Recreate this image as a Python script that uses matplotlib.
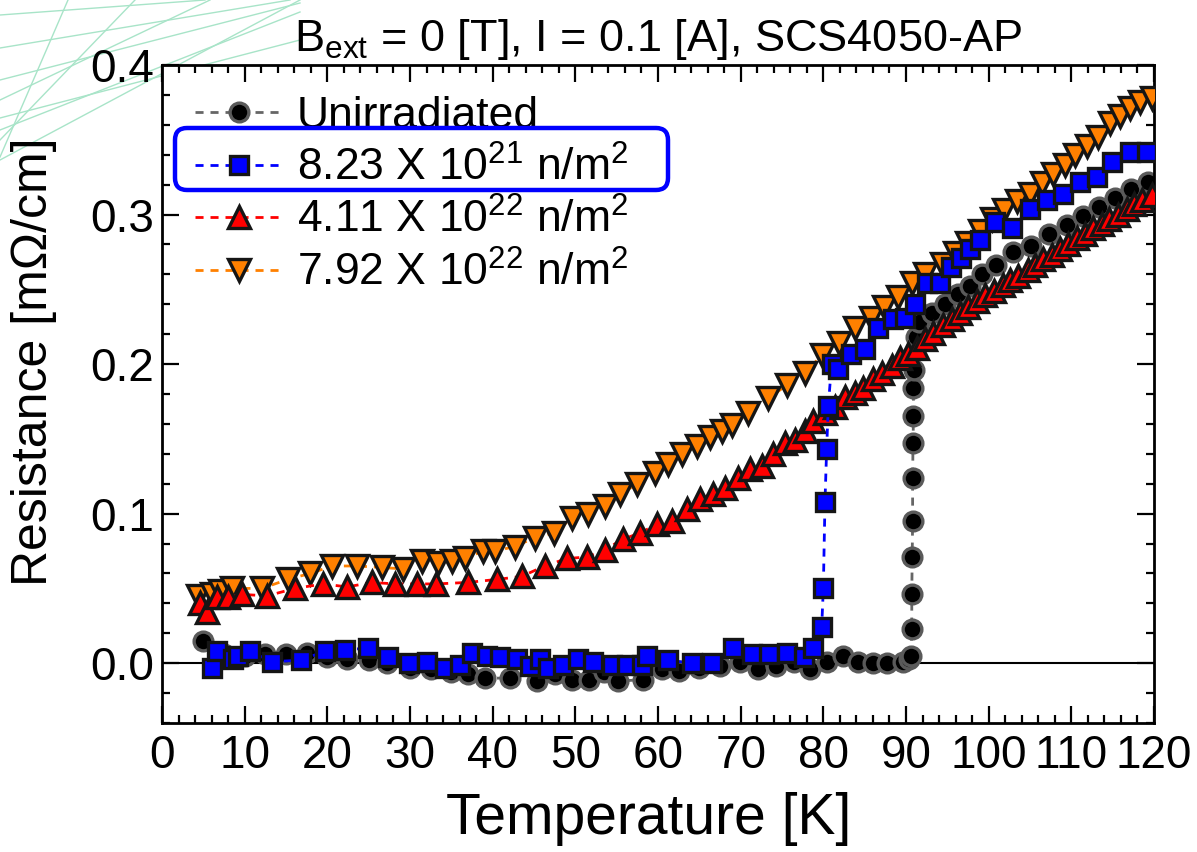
import matplotlib
matplotlib.use("Agg")
import matplotlib.pyplot as plt
from matplotlib.ticker import MultipleLocator, FormatStrFormatter
from matplotlib.patches import FancyBboxPatch
from matplotlib.lines import Line2D

plt.rcParams.update({
    "font.family": ["Liberation Sans", "DejaVu Sans"],
    "mathtext.fontset": "custom",
    "mathtext.rm": "Liberation Sans",
    "mathtext.it": "Liberation Sans:italic",
    "mathtext.bf": "Liberation Sans:bold",
})

# unirradiated
t_un = [5.0, 7.5, 10.0, 12.5, 15.0, 17.5, 20.0, 22.4, 25.0, 27.2, 30.0, 32.5,
        35.0, 37.0, 39.1, 42.1, 45.4, 47.5, 49.6, 51.7, 53.5, 55.2, 58.2, 60.5,
        62.5, 65.0, 67.5, 69.9, 72.1, 74.3, 76.4, 78.4, 80.4, 82.4, 84.2, 86.0,
        87.7, 89.6, 90.4, 90.6, 90.7, 90.7, 90.75, 90.8, 90.8, 90.85, 90.9,
        90.9, 91.0, 91.2, 91.6, 93.1, 94.7, 96.3, 97.7, 99.2, 100.9, 103.0,
        105.1, 107.3, 109.5, 111.4, 113.3, 115.3, 117.2, 119.3]
r_un = [0.015, 0.006, 0.005, 0.006, 0.006, 0.007, 0.004, 0.003, 0.002, 0.000,
        -0.003, -0.004, -0.006, -0.007, -0.010, -0.010, -0.012, -0.007, -0.011,
        -0.011, -0.006, -0.012, -0.011, -0.004, -0.005, -0.003, -0.002, 0.001,
        -0.004, -0.002, 0.001, -0.004, 0.001, 0.005, 0.001, 0.000, 0.000, 0.001,
        0.003, 0.005, 0.023, 0.046, 0.071, 0.095, 0.124, 0.147, 0.165, 0.184,
        0.196, 0.218, 0.228, 0.234, 0.240, 0.247, 0.2525, 0.260, 0.266, 0.275,
        0.279, 0.287, 0.293, 0.299, 0.305, 0.311, 0.317, 0.3215]

# 8.23e21
t_b = [6.0, 6.6, 8.6, 9.2, 10.6, 13.3, 16.8, 19.7, 22.1, 24.9, 27.3, 29.9,
       32.0, 34.2, 36.0, 37.5, 39.3, 40.9, 42.9, 44.5, 45.7, 46.7, 48.5, 50.3,
       52.1, 54.4, 56.2, 58.1, 58.7, 61.2, 64.1, 66.5, 69.1, 71.4, 73.4, 75.6,
       77.7, 78.7, 79.8, 80.0, 80.2, 80.4, 80.6, 81.0, 81.8, 83.4, 85.0, 86.6,
       88.4, 89.9, 91.1, 92.5, 94.1, 95.5, 96.7, 97.7, 98.9, 100.8, 102.8,
       105.0, 107.0, 109.0, 111.0, 113.1, 114.9, 117.1, 119.2]
r_b = [-0.003, 0.008, 0.003, 0.005, 0.008, 0.001, 0.002, 0.008, 0.009, 0.010,
       0.004, 0.000, 0.001, -0.003, -0.001, 0.007, 0.005, 0.004, 0.003, -0.002,
       0.003, -0.003, -0.001, 0.003, 0.001, -0.001, -0.001, -0.001, 0.005,
       0.002, 0.000, 0.000, 0.010, 0.006, 0.006, 0.007, 0.004, 0.010, 0.024,
       0.050, 0.108, 0.143, 0.172, 0.200, 0.197, 0.207, 0.210, 0.224, 0.230,
       0.231, 0.240, 0.254, 0.254, 0.265, 0.271, 0.277, 0.283, 0.295, 0.291,
       0.304, 0.310, 0.314, 0.322, 0.325, 0.335, 0.342, 0.342]

# 4.11e22
t_r = [4.6, 5.4, 6.6, 8.0, 9.7, 12.7, 16.1, 19.5, 22.4, 25.4, 28.2, 30.8,
       33.2, 37.0, 40.5, 43.5, 46.3, 49.0, 51.4, 53.6, 55.8, 57.8, 59.9, 61.7,
       63.5, 65.1, 66.7, 68.1, 69.7, 71.1, 72.6, 73.9, 75.4, 76.6, 77.8, 78.8,
       80.2, 81.4, 82.6, 83.8, 84.8, 86.0, 87.1, 88.3, 89.3, 90.2, 91.3, 92.3,
       93.3, 94.5, 95.6, 96.5, 97.5, 98.6, 99.6, 100.6, 101.7, 102.6, 103.6,
       104.7, 105.6, 106.6, 107.7, 108.6, 109.6, 110.7, 111.6, 112.6, 113.7,
       114.6, 115.6, 116.7, 117.6, 118.6, 119.7]
r_r = [0.040, 0.034, 0.044, 0.044, 0.046, 0.045, 0.050, 0.053, 0.051, 0.054,
       0.053, 0.053, 0.053, 0.054, 0.056, 0.058, 0.065, 0.070, 0.071, 0.076,
       0.083, 0.087, 0.093, 0.095, 0.103, 0.110, 0.113, 0.117, 0.124, 0.130,
       0.132, 0.140, 0.147, 0.149, 0.155, 0.162, 0.167, 0.171, 0.178, 0.181,
       0.184, 0.190, 0.194, 0.199, 0.204, 0.207, 0.211, 0.217, 0.221, 0.226,
       0.230, 0.234, 0.238, 0.242, 0.246, 0.249, 0.253, 0.256, 0.259, 0.263,
       0.266, 0.270, 0.273, 0.277, 0.280, 0.284, 0.287, 0.291, 0.294, 0.297,
       0.300, 0.304, 0.307, 0.310, 0.313]

# 7.92e22
t_o = [4.4, 6.0, 7.0, 8.5, 12.1, 15.2, 17.9, 20.6, 23.6, 26.6, 29.2, 31.4,
       33.4, 35.1, 36.7, 38.8, 40.3, 42.7, 45.1, 47.4, 49.6, 51.5, 53.6, 55.4,
       57.5, 59.6, 61.2, 62.9, 64.7, 66.3, 67.7, 68.9, 70.9, 73.3, 75.6, 77.8,
       79.8, 81.9, 83.8, 85.8, 87.3, 89.0, 90.7, 92.3, 94.4, 95.9, 97.4, 98.9,
       100.4, 101.8, 103.4, 105.0, 106.4, 107.8, 109.2, 110.4, 111.9, 113.2,
       114.7, 115.9, 117.1, 118.3, 119.7]
r_o = [0.045, 0.046, 0.048, 0.050, 0.050, 0.056, 0.060, 0.065, 0.065, 0.064,
       0.063, 0.068, 0.067, 0.068, 0.070, 0.075, 0.075, 0.078, 0.084, 0.087,
       0.097, 0.100, 0.105, 0.113, 0.120, 0.127, 0.133, 0.140, 0.145, 0.151,
       0.155, 0.159, 0.167, 0.177, 0.186, 0.194, 0.206, 0.214, 0.224, 0.231,
       0.238, 0.245, 0.254, 0.260, 0.267, 0.274, 0.281, 0.289, 0.297, 0.303,
       0.309, 0.314, 0.321, 0.327, 0.333, 0.340, 0.346, 0.352, 0.361, 0.366,
       0.371, 0.375, 0.378]

labels = ["Unirradiated",
          r"8.23 X 10$^{21}$ n/m$^{2}$",
          r"4.11 X 10$^{22}$ n/m$^{2}$",
          r"7.92 X 10$^{22}$ n/m$^{2}$"]

W, H = 1197, 852
fig = plt.figure(figsize=(W / 100, H / 100), dpi=100)
ax_l, ax_r, ax_t, ax_b = 162, 1154, 65, 723
ax = fig.add_axes([ax_l / W, 1 - ax_b / H, (ax_r - ax_l) / W, (ax_b - ax_t) / H])

def ax_frac(px, py):
    return (px - ax_l) / (ax_r - ax_l), (ax_b - py) / (ax_b - ax_t)

# decorative background lines in the top-left corner (pixel coords)
deco = [((0, 15), (205, 0)), ((0, 48), (290, 0)), ((0, 80), (300, 3)),
        ((0, 160), (300, 0)), ((0, 130), (300, 12)), ((0, 157), (68, 0)),
        ((0, 140), (135, 0)), ((0, 100), (210, 0)), ((0, 118), (300, 40))]
for (x0, y0), (x1, y1) in deco:
    fig.add_artist(Line2D([x0 / W, x1 / W], [1 - y0 / H, 1 - y1 / H],
                          transform=fig.transFigure, color="#a8e4c8", lw=1.0,
                          zorder=0))

ax.axhline(0, color="black", lw=1.5, zorder=1)

dash = (0, (2.9, 2.5))
styles = [
    dict(color="#666666", marker="o", ms=13.5, mfc="black", mec="#5a5a5a"),
    dict(color="#0000ff", marker="s", ms=13, mfc="#0000ff", mec="#151515"),
    dict(color="#ff0000", marker="^", ms=16, mfc="#ff0000", mec="#151515"),
    dict(color="#ff8000", marker="v", ms=16, mfc="#ff8000", mec="#151515"),
]
series = [(t_un, r_un, 2), (t_b, r_b, 5), (t_r, r_r, 4), (t_o, r_o, 3)]
for (tt, rr, z), st in zip(series, styles):
    ax.plot(tt, rr, ls=dash, lw=2.0, mew=2.4, zorder=z, **st)

ax.set_xlim(0, 120)
ax.set_ylim(-0.04, 0.4)
ax.xaxis.set_major_locator(MultipleLocator(10))
ax.xaxis.set_minor_locator(MultipleLocator(2))
ax.yaxis.set_major_locator(MultipleLocator(0.1))
ax.yaxis.set_minor_locator(MultipleLocator(0.02))
ax.yaxis.set_major_formatter(FormatStrFormatter("%.1f"))
ax.tick_params(which="both", direction="in", top=True, right=True, width=1.6)
ax.tick_params(which="major", length=12, labelsize=33)
ax.tick_params(which="minor", length=6)
ax.tick_params(axis="x", pad=8)
ax.tick_params(axis="y", pad=6)
for s in ax.spines.values():
    s.set_linewidth(2.0)

ax.set_xlabel("Temperature [K]", fontsize=41)
ax.xaxis.set_label_coords(ax_frac(649, 0)[0], ax_frac(0, 792)[1])
ax.set_ylabel("Resistance [m\u03a9/cm]", fontsize=36)
ax.yaxis.set_label_coords(*ax_frac(57, 362))
ax.set_title(r"B$_{\mathrm{ext}}$ = 0 [T], I = 0.1 [A], SCS4050-AP",
             fontsize=32.5, pad=10)

# legend drawn row by row: dashed handle with marker in the middle, then text
rows_y = [112, 165, 217, 270]
for y, st, lab in zip(rows_y, styles, labels):
    x0, yy = ax_frac(195, y)
    x1, _ = ax_frac(283, y)
    xm, _ = ax_frac(239, y)
    ax.add_line(Line2D([x0, x1], [yy, yy], transform=ax.transAxes, ls=dash,
                       lw=2.0, color=st["color"], clip_on=False, zorder=6))
    ax.add_line(Line2D([xm], [yy], transform=ax.transAxes, ls="none",
                       marker=st["marker"], ms=st["ms"], mfc=st["mfc"],
                       mec=st["mec"], mew=2.4, clip_on=False, zorder=7))
    xt, yb = ax_frac(297, y + 16)
    ax.text(xt, yb, lab, transform=ax.transAxes, fontsize=32, va="baseline",
            ha="left", zorder=7)

# blue highlight box around the second legend entry
fig.add_artist(FancyBboxPatch((1.75, (H - 190) / 100), 4.93, 0.62,
                              boxstyle="round,pad=0,rounding_size=0.12",
                              transform=fig.dpi_scale_trans, fill=False,
                              ec="#0000ff", lw=3.2, zorder=10))

fig.savefig("out.png", dpi=100)
